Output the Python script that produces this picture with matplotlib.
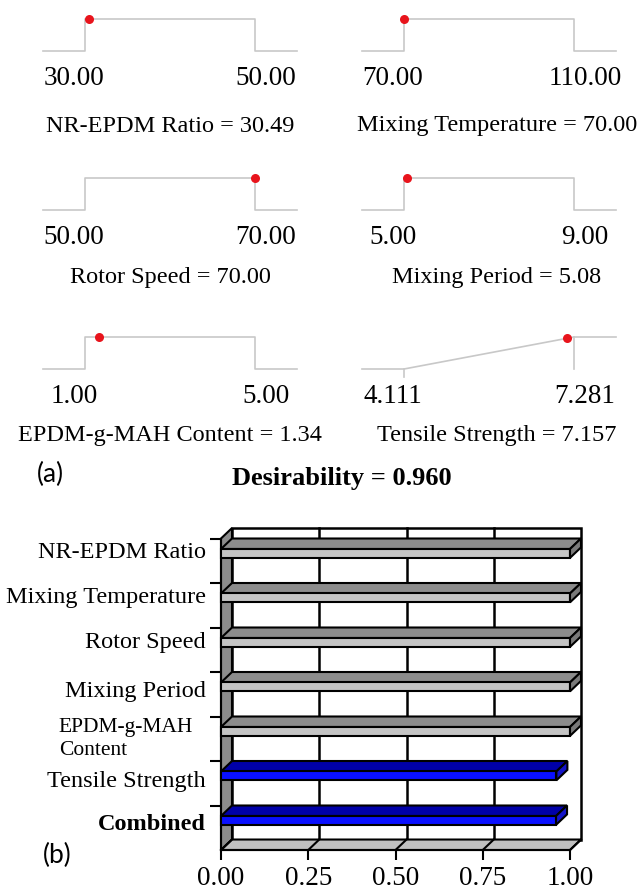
import matplotlib.pyplot as plt
from matplotlib.patches import Polygon, Rectangle

plt.rcParams['font.family'] = ['Liberation Serif', 'DejaVu Serif']

# factor ramps (panel a)
factor_names = ["NR-EPDM Ratio", "Mixing Temperature", "Rotor Speed",
                "Mixing Period", "EPDM-g-MAH Content"]
factor_low = [30.00, 70.00, 50.00, 5.00, 1.00]
factor_high = [50.00, 110.00, 70.00, 9.00, 5.00]
factor_opt = [30.49, 70.00, 70.00, 5.08, 1.34]

response_name = "Tensile Strength"
response_low = 4.111
response_high = 7.281
response_opt = 7.157

# desirability bars (panel b)
bar_labels = ["NR-EPDM Ratio", "Mixing Temperature", "Rotor Speed", "Mixing Period",
              "EPDM-g-MAH\nContent", "Tensile Strength", "Combined"]
bar_desirability = [1.0, 1.0, 1.0, 1.0, 1.0, 0.961, 0.960]
combined = 0.960
x_ticks = [0.00, 0.25, 0.50, 0.75, 1.00]

W, H = 640, 891
fig = plt.figure(figsize=(W / 100, H / 100), dpi=100)


def box(l, t, r, b):
    return [l / W, 1 - b / H, (r - l) / W, (b - t) / H]


LINE = "#c8c8c8"


def ramp_panel(col, row, name, lo, hi, opt, fmt, response=False):
    left = 43 if col == 0 else 362
    tops = [19, 178, 337]
    top = tops[row]
    ax = fig.add_axes(box(left, top, left + 254, top + 32))
    ext = 42 / 170 * (hi - lo)
    xmin, xmax = lo - ext, hi + ext
    ax.set_xlim(xmin, xmax)
    ax.set_ylim(0, 1)
    ax.axis("off")
    if response:
        d = (opt - lo) / (hi - lo)
        ax.plot([xmin, lo, hi, xmax], [0, 0, 1, 1], color=LINE, lw=1.2, clip_on=False)
        ax.plot([hi, hi], [0, 1], color=LINE, lw=1.2, clip_on=False)
        ax.plot([lo, lo], [0, -0.25], color=LINE, lw=1.2, clip_on=False)
    else:
        d = 1.0
        ax.plot([xmin, lo, lo, hi, hi, xmax], [0, 0, 1, 1, 0, 0],
                color=LINE, lw=1.2, clip_on=False)
    ax.plot([opt], [d], "o", color="#e8141c", ms=6.5, mec="none", clip_on=False, zorder=5)
    for v, off in [(lo, -8), (hi, 8)]:
        ax.annotate(fmt.format(v), xy=(v, 0), xycoords=("data", "axes fraction"),
                    xytext=(off, -19.5), textcoords="offset points",
                    ha="center", va="center", fontsize=19.5)
    title_y = [126, 278, 435][row]
    title_x = 170 if col == 0 else 497
    fig.text(title_x / W, 1 - title_y / H, f"{name} = {fmt.format(opt)}",
             ha="center", va="center", fontsize=17.5)


grid_pos = [(0, 0), (1, 0), (0, 1), (1, 1), (0, 2)]
for (c, r), name, lo, hi, opt in zip(grid_pos, factor_names, factor_low, factor_high, factor_opt):
    ramp_panel(c, r, name, lo, hi, opt, "{:.2f}")
ramp_panel(1, 2, response_name, response_low, response_high, response_opt, "{:.3f}", response=True)

fig.text(50 / W, 1 - 474 / H, "(a)", family=["Lato", "DejaVu Sans"], fontsize=19,
         ha="center", va="center")
fig.text(57 / W, 1 - 855 / H, "(b)", family=["Lato", "DejaVu Sans"], fontsize=19,
         ha="center", va="center")
fig.text(342 / W, 1 - 479 / H, f"Desirability = {combined:.3f}", ha="center", va="center",
         fontsize=19, fontweight="bold")

# pseudo-3D horizontal bar chart
axb = fig.add_axes(box(221, 538.5, 570, 850))
n = len(bar_labels)
axb.set_xlim(0, 1)
axb.set_ylim(n, 0)
dx, dy = 11 / 349, 10.5 / 44.6
bh = 0.2

axb.add_patch(Polygon([(dx, -dy), (1 + dx, -dy), (1 + dx, n - dy), (dx, n - dy)],
                      fc="white", ec="black", lw=1.8, clip_on=False, zorder=1))
for t in x_ticks[1:-1]:
    axb.plot([t + dx, t + dx], [-dy, n - dy], color="black", lw=1.8, clip_on=False, zorder=1.5)
axb.add_patch(Polygon([(0, 0), (dx, -dy), (dx, n - dy), (0, n)],
                      fc="#8c8c8c", ec="black", lw=1.5, clip_on=False, zorder=2))
axb.add_patch(Polygon([(0, n), (1, n), (1 + dx, n - dy), (dx, n - dy)],
                      fc="#c0c0c0", ec="black", lw=1.5, clip_on=False, zorder=2))
for t in x_ticks:
    axb.plot([t, t + dx], [n, n - dy], color="black", lw=1.5, clip_on=False, zorder=2.1)

for i, v in enumerate(bar_desirability):
    if i < 5:
        top_c, front_c, end_c = "#8c8c8c", "#c4c4c4", "#7a7a7a"
    else:
        top_c, front_c, end_c = "#0000a8", "#0a10ff", "#1414c8"
    yf = i + dy
    axb.add_patch(Polygon([(0, yf), (v, yf), (v + dx, yf - dy), (dx, yf - dy)],
                          fc=top_c, ec="black", lw=1.5, clip_on=False, zorder=3))
    axb.add_patch(Rectangle((0, yf), v, bh, fc=front_c, ec="black", lw=1.5,
                            clip_on=False, zorder=3))
    axb.add_patch(Polygon([(v, yf), (v + dx, yf - dy), (v + dx, yf + bh - dy), (v, yf + bh)],
                          fc=end_c, ec="black", lw=1.5, clip_on=False, zorder=3))

for s in ["top", "right"]:
    axb.spines[s].set_visible(False)
for s in ["left", "bottom"]:
    axb.spines[s].set_linewidth(1.5)
    axb.spines[s].set_zorder(2.5)
axb.set_xticks(x_ticks, labels=[f"{t:.2f}" for t in x_ticks])
axb.set_yticks(range(n), labels=[""] * n)
axb.tick_params(axis="x", length=7.2, width=1.5, labelsize=19.5, pad=4)
axb.tick_params(axis="y", length=8, width=1.5)

label_y = [0.325, 1.33, 2.34, 3.44, 4.50, 5.46, 6.42]
for i, (lab, yc) in enumerate(zip(bar_labels, label_y)):
    if "\n" in lab:
        axb.text((193 - 221) / 349, yc, lab, transform=axb.get_yaxis_transform(),
                 ha="right", va="center", multialignment="left", fontsize=15.5, linespacing=1.3)
    else:
        axb.text(-0.043, yc, lab, transform=axb.get_yaxis_transform(), ha="right", va="center",
                 fontsize=17.5, fontweight="bold" if lab == "Combined" else "normal")

fig.savefig("out.png", dpi=100)
